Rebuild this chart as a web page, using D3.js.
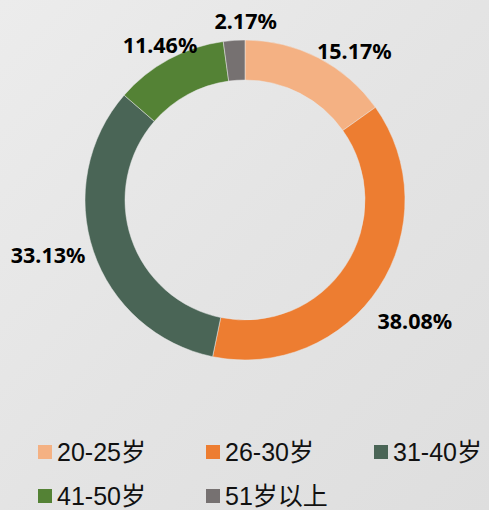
<!DOCTYPE html>
<html>
<head>
<meta charset="utf-8">
<script src="https://cdn.jsdelivr.net/npm/d3@7"></script>
<style>
 body { margin: 0; }
 svg { display: block; }
</style>
</head>
<body>
<script>
'use strict'
// age distribution donut

const categories = ["20-25岁", "26-30岁", "31-40岁", "41-50岁", "51岁以上"];
const values = [15.17, 38.08, 33.13, 11.46, 2.17];
const colors = ["#F4B183", "#ED7D31", "#4A6556", "#548235", "#767171"];

const width = 489, height = 510;
const cx = 245, cy = 200;
const outerR = 160, innerR = 120;

let svg = d3.select("body").append("svg")
 .attr("width", width)
 .attr("height", height);

// light marble-ish background
let defs = svg.append("defs");
let grad = defs.append("linearGradient").attr("id", "bg")
 .attr("x1", "0").attr("y1", "0").attr("x2", "1").attr("y2", "1");
grad.append("stop").attr("offset", "0").attr("stop-color", "#ececec");
grad.append("stop").attr("offset", "0.5").attr("stop-color", "#e4e4e4");
grad.append("stop").attr("offset", "1").attr("stop-color", "#dedede");
svg.append("rect").attr("width", width).attr("height", height).attr("fill", "url(#bg)");

let pie = d3.pie().sort(null).value(d => d);
let arcs = pie(values);
let arc = d3.arc().innerRadius(innerR).outerRadius(outerR);

let g = svg.append("g").attr("transform", "translate(" + cx + "," + cy + ")");

g.selectAll("path")
 .data(arcs)
 .enter().append("path")
 .attr("d", arc)
 .attr("fill", (d, i) => colors[i])
 .attr("stroke", "#e8e8e8")
 .attr("stroke-width", 0.5);

// labels sit outside the ring; small nudges like the hand-placed originals
const labelR = 172, boxW = 76, boxH = 17;
const nudge = [[13, 11], [-6, 22], [2, -3], [15, 3], [15, 1]];

g.selectAll("text.pct")
 .data(arcs)
 .enter().append("text")
 .attr("class", "pct")
 .attr("x", (d, i) => {
  let a = (d.startAngle + d.endAngle) / 2;
  return labelR * Math.sin(a) + Math.sin(a) * boxW / 2 + nudge[i][0];
 })
 .attr("y", (d, i) => {
  let a = (d.startAngle + d.endAngle) / 2;
  return -labelR * Math.cos(a) - Math.cos(a) * boxH / 2 + nudge[i][1];
 })
 .attr("text-anchor", "middle")
 .attr("dominant-baseline", "central")
 .attr("font-family", "'Noto Sans', 'Open Sans', sans-serif")
 .attr("font-weight", "bold")
 .attr("font-size", 21.5)
 .attr("fill", "#000")
 .text(d => d.data.toFixed(2) + "%");

// legend
let legend = svg.append("g");
let item = legend.selectAll("g")
 .data(categories)
 .enter().append("g")
 .attr("transform", (d, i) => "translate(" + (38 + (i % 3) * 168) + "," + (452 + Math.floor(i / 3) * 44) + ")");

item.append("rect")
 .attr("x", 0).attr("y", -7)
 .attr("width", 14).attr("height", 14)
 .attr("fill", (d, i) => colors[i]);

item.append("text")
 .attr("x", 19).attr("y", 0)
 .attr("dominant-baseline", "central")
 .attr("font-family", "'Liberation Sans', 'Noto Sans CJK SC', sans-serif")
 .attr("font-size", 25)
 .attr("fill", "#111")
 .text(d => d);
</script>
</body>
</html>
